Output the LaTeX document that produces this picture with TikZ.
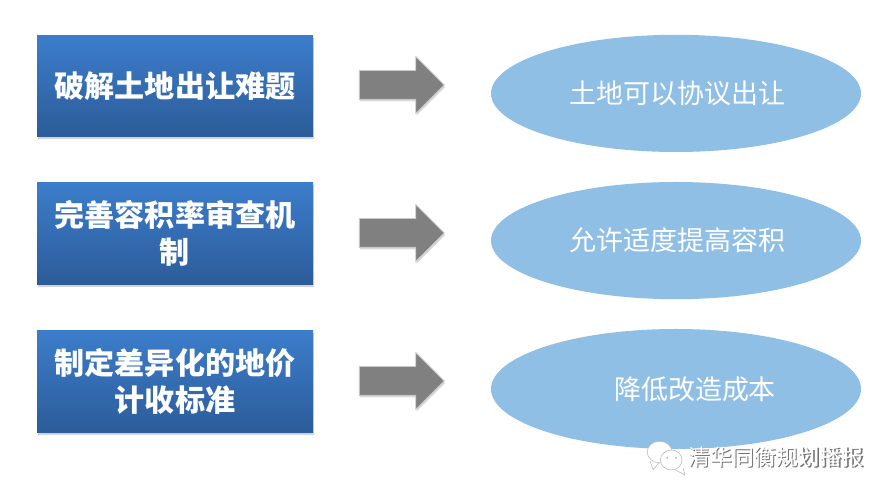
\documentclass[tikz,border=0pt]{standalone}
\usepackage{fontspec}
\newfontfamily\cjk{Noto Sans CJK SC}
\usetikzlibrary{shapes,shadows,positioning}
\definecolor{boxtop}{HTML}{3C7DCB}
\definecolor{boxbottom}{HTML}{2C5C99}
\definecolor{ovalblue}{HTML}{8FBFE5}
\definecolor{arrowgray}{HTML}{808080}
\tikzset{
  titlebox/.style={rectangle,minimum width=6.9cm,minimum height=2.54cm,align=center,
    top color=boxtop,bottom color=boxbottom,text=white,
    font=\cjk\bfseries\fontsize{21.4}{26}\selectfont,
    drop shadow={shadow xshift=0.02cm,shadow yshift=-0.06cm,opacity=0.35}},
  blockarrow/.style={single arrow,minimum height=2.12cm,single arrow head extend=0.35cm,
    single arrow tip angle=90,inner sep=0pt,fill=arrowgray,draw=black!22,line width=0.6pt,
    drop shadow={shadow xshift=0.02cm,shadow yshift=-0.05cm,opacity=0.3}},
  oval/.style={ellipse,minimum width=9.25cm,minimum height=2.93cm,inner sep=0pt,fill=ovalblue,text=white,
    font=\cjk\fontsize{19.2}{23}\selectfont},
  mark text/.style={font=\cjk\fontsize{15.6}{20}\selectfont},
  bubble/.style={fill=white,draw=black!28,line width=0.4pt}
}
\begin{document}
\begin{tikzpicture}
\useasboundingbox (0,0) rectangle (22.325,12.425);

% Left boxes
\node[titlebox] (box1) at (4.375,10.27) {破解土地出让难题};
\node[titlebox] (box2) at (4.375,6.59) {完善容积率审查机\\制};
\node[titlebox] (box3) at (4.375,2.89) {制定差异化的地价\\计收标准};

% Arrows
\node[blockarrow] (arrow1) at (9.865,10.3) {\rule{0pt}{0.7cm}};
\node[blockarrow] (arrow2) at (9.865,6.6) {\rule{0pt}{0.7cm}};
\node[blockarrow] (arrow3) at (9.865,2.9) {\rule{0pt}{0.7cm}};

% Right ovals
\node[oval] (oval1) at (16.9,10.09) {\hspace*{0.08cm}土地可以协议出让};
\node[oval] (oval2) at (16.9,6.41) {\hspace*{0.08cm}允许适度提高容积};
\node[oval,minimum height=3cm] (oval3) at (16.9,2.7) {\hspace*{0.95cm}降低改造成本};

% Watermark
\draw[bubble] (16.25,0.9) -- (16.33,0.68) -- (16.5,0.88);
\draw[bubble] (16.49,1.125) ellipse (0.31 and 0.27);
\draw[bubble] (17.08,0.72) -- (17.12,0.55) -- (16.88,0.68);
\draw[bubble] (16.78,0.925) ellipse (0.27 and 0.25);
\fill[black!30] (16.68,0.98) circle (0.025) (16.9,0.98) circle (0.025);
\node[mark text,text=black!55] (mark) at (19.43,0.96) {清华同衡规划播报};
\node[mark text,text=white] at (19.40,0.99) {清华同衡规划播报};

\end{tikzpicture}
\end{document}
